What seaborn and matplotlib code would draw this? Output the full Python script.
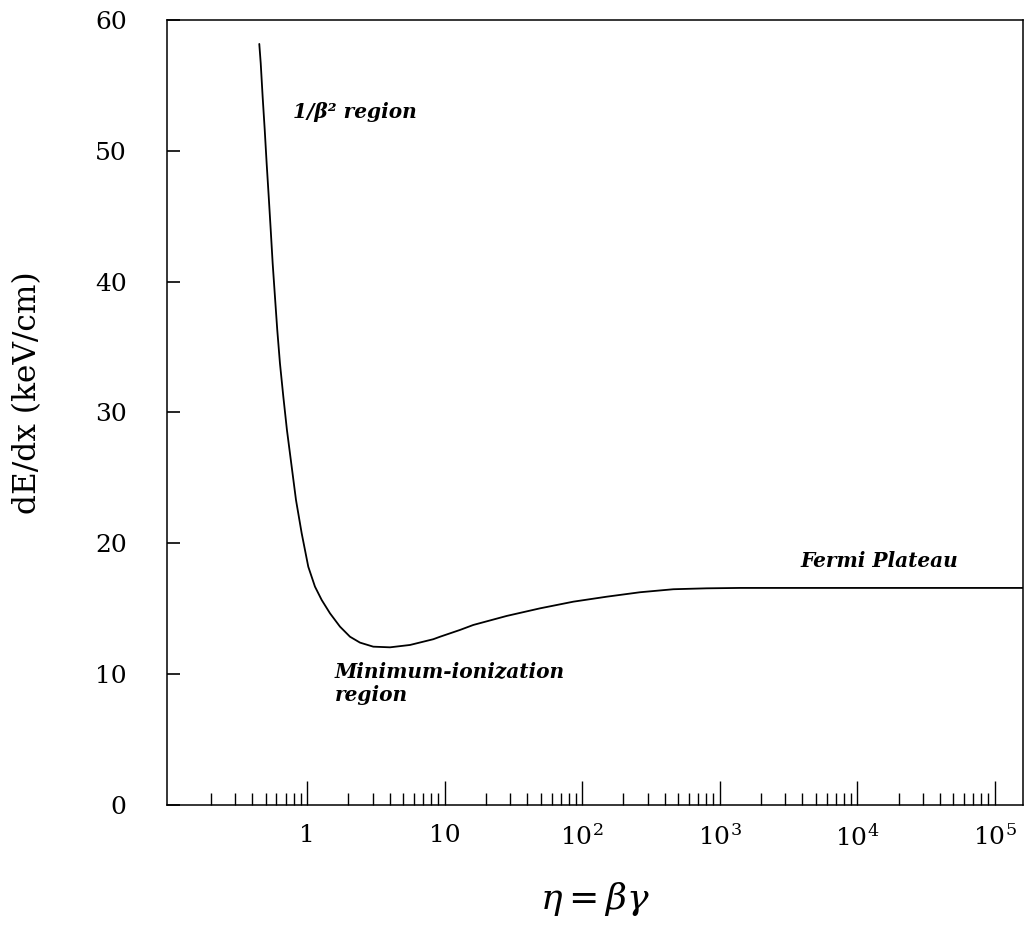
import matplotlib
matplotlib.use("Agg")
import matplotlib.pyplot as plt
import matplotlib.ticker as mticker
import seaborn as sns

# curve: eta = beta*gamma, dE/dx in keV/cm
eta = [0.450, 0.461, 0.476, 0.493, 0.509, 0.527, 0.545, 0.563, 0.585,
       0.608, 0.636, 0.673, 0.715, 0.774, 0.832, 0.915, 1.022, 1.143,
       1.279, 1.470, 1.738, 2.055, 2.429, 3.034, 4.015, 5.612, 8.289,
       9.28, 12.97, 16.2, 28.35, 49.5, 86.5, 151.2, 264.1, 461.4, 807,
       1409, 2754, 1.6e5]
dedx = [58.17, 56.69, 54.14, 51.59, 49.05, 46.50, 43.95, 41.40, 38.85,
        36.31, 33.76, 31.21, 28.66, 25.86, 23.31, 20.77, 18.21, 16.69,
        15.67, 14.65, 13.63, 12.86, 12.41, 12.10, 12.05, 12.23, 12.67,
        12.86, 13.38, 13.76, 14.45, 15.03, 15.54, 15.92, 16.26, 16.49, 16.56,
        16.59, 16.59, 16.59]

xticks = [1, 10, 100, 1000, 1e4, 1e5]
xticklabels = ["1", "10", r"$10^{2}$", r"$10^{3}$", r"$10^{4}$", r"$10^{5}$"]
yticks = [0, 10, 20, 30, 40, 50, 60]

sns.set_style("ticks")
plt.rcParams["font.family"] = ["DejaVu Serif"]
plt.rcParams["mathtext.fontset"] = "dejavuserif"
plt.rcParams["text.color"] = "black"
plt.rcParams["axes.labelcolor"] = "black"
plt.rcParams["xtick.color"] = "black"
plt.rcParams["ytick.color"] = "black"

fig = plt.figure(figsize=(10.29, 9.26), dpi=100)
ax = fig.add_axes([0.1623, 0.1307, 0.8316, 0.8477])

sns.lineplot(x=eta, y=dedx, ax=ax, color="black", linewidth=1.3)

ax.set_xscale("log")
ax.set_xlim(0.096, 1.6e5)
ax.set_ylim(0, 60)

ax.xaxis.set_major_locator(mticker.FixedLocator(xticks))
ax.set_xticklabels(xticklabels)
ax.xaxis.set_minor_locator(mticker.LogLocator(base=10, subs=range(2, 10), numticks=20))
ax.xaxis.set_minor_formatter(mticker.NullFormatter())
ax.yaxis.set_major_locator(mticker.FixedLocator(yticks))
ax.yaxis.set_minor_locator(mticker.NullLocator())

for s in ax.spines.values():
    s.set_linewidth(1.1)
    s.set_color("black")

ax.tick_params(axis="x", which="major", direction="in", length=17, width=1.0,
               pad=14, labelsize=18, bottom=True, top=False)
ax.tick_params(axis="x", which="minor", direction="in", length=8.5, width=1.0,
               bottom=True, top=False)
ax.yaxis.set_tick_params(which="major", direction="in", length=9.5, width=1.2,
                         pad=29, labelsize=18, left=True, right=False,
                         color="black")

ax.set_ylabel("dE/dx (keV/cm)", fontsize=22.5)
ax.yaxis.set_label_coords(-0.145, 0.525)
ax.set_xlabel(r"$\eta = \beta\gamma$", fontsize=26)
ax.xaxis.set_label_coords(0.5, -0.095)

ax.text(0.79, 53.0, "1/β² region", fontsize=14.5, style="italic",
        weight="bold", va="center")
ax.text(3850, 18.2, "Fermi Plateau", fontsize=14.5, style="italic",
        weight="bold", va="baseline")
ax.text(1.6, 11.0, "Minimum-ionization\nregion", fontsize=14.5, style="italic",
        weight="bold", va="top", linespacing=1.25)

fig.savefig("out.png", dpi=100)
